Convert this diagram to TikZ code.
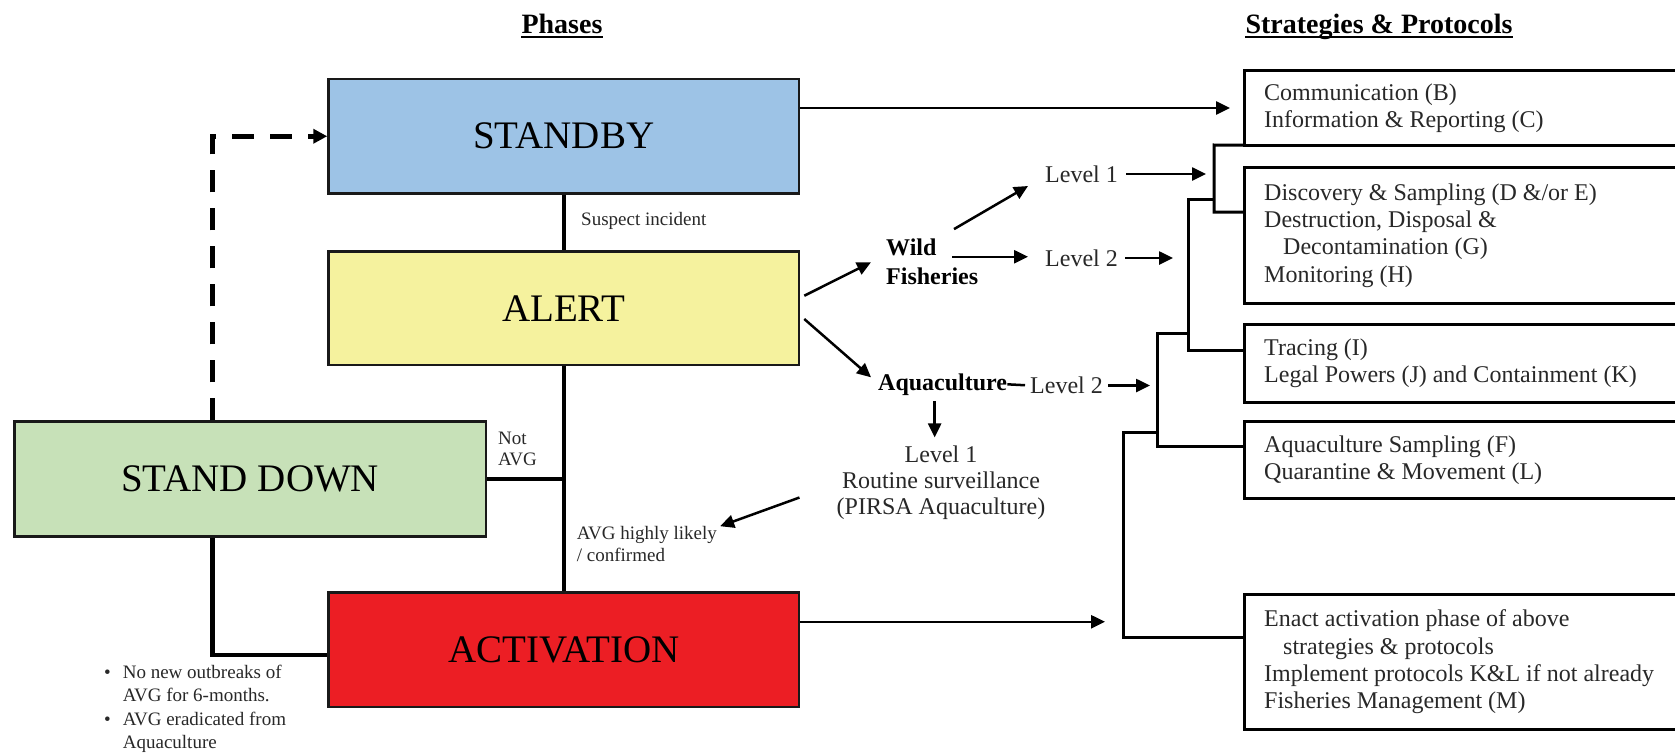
\documentclass[tikz,border=0pt]{standalone}
\usepackage{fontspec}
\setmainfont{Liberation Serif}
\usetikzlibrary{arrows.meta,calc}
\definecolor{sbblue}{RGB}{157,195,230}
\definecolor{alyellow}{RGB}{245,242,158}
\definecolor{sdgreen}{RGB}{199,225,184}
\definecolor{acred}{RGB}{236,30,36}
\definecolor{txt}{RGB}{40,40,40}
\tikzset{
  phase/.style={draw=black!90, line width=2.5pt, inner sep=0pt, minimum width=470.5pt,
    minimum height=114.5pt, font=\fontsize{39}{44}\selectfont},
  conn/.style={line width=4.5pt},
  tree/.style={line width=3pt},
  boxline/.style={line width=3pt},
  arr/.style={line width=2.5pt, -{Triangle[length=14pt,width=13pt]}},
  dashline/.style={line width=4.5pt, dash pattern=on 22pt off 16pt, -{Triangle[length=14pt,width=14pt]}},
  sbox/.style={inner xsep=20pt, inner ysep=0pt, anchor=west, align=left, text=txt,
    font=\fontsize{24}{27.3}\selectfont},
  small/.style={inner sep=0pt, anchor=west, align=left, text=txt, font=\fontsize{19}{21.8}\selectfont},
  lvl/.style={inner sep=0pt, text=txt, font=\fontsize{24}{26}\selectfont},
  bld/.style={inner sep=0pt, font=\bfseries\fontsize{24}{29}\selectfont},
  hdr/.style={inner sep=0pt, anchor=base, font=\bfseries\fontsize{28}{32}\selectfont},
  uline/.style={line width=2.2pt}
}
\begin{document}
\begin{tikzpicture}[x=1pt,y=-1pt]
\fill[white] (0,0) rectangle (1675,752);
\useasboundingbox (0,0) rectangle (1675,752);

% headers
\node[hdr] (ph) at (562,34) {Phases};
\draw[uline] ([yshift=-3pt]ph.base west) -- ([yshift=-3pt]ph.base east);
\node[hdr] (sp) at (1379,34) {Strategies \& Protocols};
\draw[uline] ([yshift=-3pt]sp.base west) -- ([yshift=-3pt]sp.base east);

% phase boxes
\node[phase, fill=sbblue] (standby) at (563.75,136.25) {STANDBY};
\node[phase, fill=alyellow, minimum height=113.5pt] (alert) at (563.75,308.25) {ALERT};
\node[phase, fill=sdgreen, minimum width=471.5pt, minimum height=115pt] (standdown) at (250.25,479.2) {STAND DOWN};
\node[phase, fill=acred] (activation) at (563.75,649.75) {ACTIVATION};

% phase connectors
\draw[conn] (standby.south) -- (alert.north);
\draw[conn] (alert.south) -- (activation.north);
\draw[conn] (standdown.east) -- (standdown.east -| alert.south);
\coordinate (sdb) at ([xshift=-37.75pt]standdown.south);
\draw[conn] (sdb) |- ([yshift=-5pt]activation.west);
\coordinate (sdt) at ([xshift=-37.75pt]standdown.north);
\draw[dashline] (sdt) |- (standby.west);

% small labels
\node[small] (susp) at (581,220.5) {Suspect incident};
\node[small] (notavg) at (498,449) {Not\\AVG};
\node[small] (avg) at (576.7,544) {AVG highly likely\\/ confirmed};
\node[small, anchor=north west, font=\fontsize{19}{23.4}\selectfont] (bul) at (104,662)
  {\begin{tabular}{@{}l@{\hspace{12pt}}l@{}}
   \textbullet & No new outbreaks of\\
               & AVG for 6-months.\\
   \textbullet & AVG eradicated from\\
               & Aquaculture
   \end{tabular}};

% middle branch
\node[bld, anchor=west, align=left] (wild) at (886,262.25) {Wild\\Fisheries};
\node[bld, anchor=west] (aqua) at (878,384.3) {Aquaculture};
\node[lvl, anchor=west] (lvl1w) at (1045,174) {Level 1};
\node[lvl, anchor=west] (lvl2w) at (1045,258) {Level 2};
\node[lvl, anchor=west] (lvl2a) at (1030,385.5) {Level 2};
\node[lvl, align=center] (aqlvl1) at (941,482.5) {Level 1\\Routine surveillance\\(PIRSA Aquaculture)};

\draw[arr] ([xshift=4pt,yshift=12.5pt]alert.east) -- ([xshift=-15pt]wild.west);
\draw[arr] ([xshift=4pt,yshift=-10.75pt]alert.east) -- ([xshift=-7pt,yshift=7pt]aqua.west);
\draw[arr] ([xshift=68pt,yshift=10pt]wild.north west) -- ([xshift=-17pt,yshift=-12pt]lvl1w.west);
\coordinate (w2s) at ([xshift=66pt,yshift=5.5pt]wild.west);
\draw[arr] (w2s) -- ([xshift=-17pt]w2s -| lvl2w.west);
\draw[line width=2.5pt, shorten >=5pt] (aqua.east) -- (lvl2a.west);
\coordinate (aqs) at ([xshift=-8pt]aqua.south);
\draw[arr, shorten <=6pt, shorten >=8pt] (aqs) -- (aqs |- aqlvl1.north);
\draw[arr] ([xshift=-37pt,yshift=-15pt]aqlvl1.west) -- ([xshift=3pt]avg.north east);

% strategy boxes
\coordinate (R) at (1675,0);
\node[sbox, minimum height=74pt] (b1) at (1244,108) {Communication (B)\\Information \& Reporting (C)};
\node[sbox, minimum height=135pt] (b2) at (1244,235.5) {Discovery \& Sampling (D \&/or E)\\Destruction, Disposal \&\\\hspace*{19pt}Decontamination (G)\\Monitoring (H)};
\node[sbox, minimum height=77pt] (b3) at (1244,363.5) {Tracing (I)\\Legal Powers (J) and Containment (K)};
\node[sbox, minimum height=76pt] (b4) at (1244,460) {Aquaculture Sampling (F)\\Quarantine \& Movement (L)};
\node[sbox, minimum height=134pt] (b5) at (1244,662) {Enact activation phase of above\\\hspace*{19pt}strategies \& protocols\\Implement protocols K\&L if not already\\Fisheries Management (M)};
\foreach \b in {b1,b2,b3,b4,b5}{
  \draw[boxline] (\b.north -| R) -- (\b.north west) -- (\b.south west) -- (\b.south -| R);
}

% bracket tree
\coordinate (A1) at (1214,145);
\coordinate (A2) at (1214,212);
\coordinate (B1) at (1188,199);
\coordinate (B2) at (1188,350);
\coordinate (C1) at (1157.5,333);
\coordinate (C2) at (1157.5,446);
\coordinate (D1) at (1123.5,432);
\coordinate (D2) at (1123.5,637);
\draw[tree] (b1.south west) -- (A1) -- (A2) -- (A2 -| b2.west);
\draw[tree] (B1 -| A1) -- (B1) -- (B2) -- (B2 -| b3.west);
\draw[tree] (C1 -| B1) -- (C1) -- (C2) -- (C2 -| b4.west);
\draw[tree] (D1 -| C1) -- (D1) -- (D2) -- (D2 -| b5.west);

% arrows into tree
\draw[arr, shorten <=8pt, shorten >=8pt] (lvl1w.east) -- (lvl1w.east -| A1);
\draw[arr, shorten <=7pt, shorten >=15pt] (lvl2w.east) -- (lvl2w.east -| B1);
\draw[arr, shorten <=5pt, shorten >=7.5pt] (lvl2a.east) -- (lvl2a.east -| C1);
\draw[arr, shorten >=14pt] (standby.east |- b1.west) -- (b1.west);
\coordinate (aE) at ([yshift=28pt]activation.east);
\draw[arr, shorten >=18.5pt] (aE) -- (aE -| D1);
\end{tikzpicture}
\end{document}
